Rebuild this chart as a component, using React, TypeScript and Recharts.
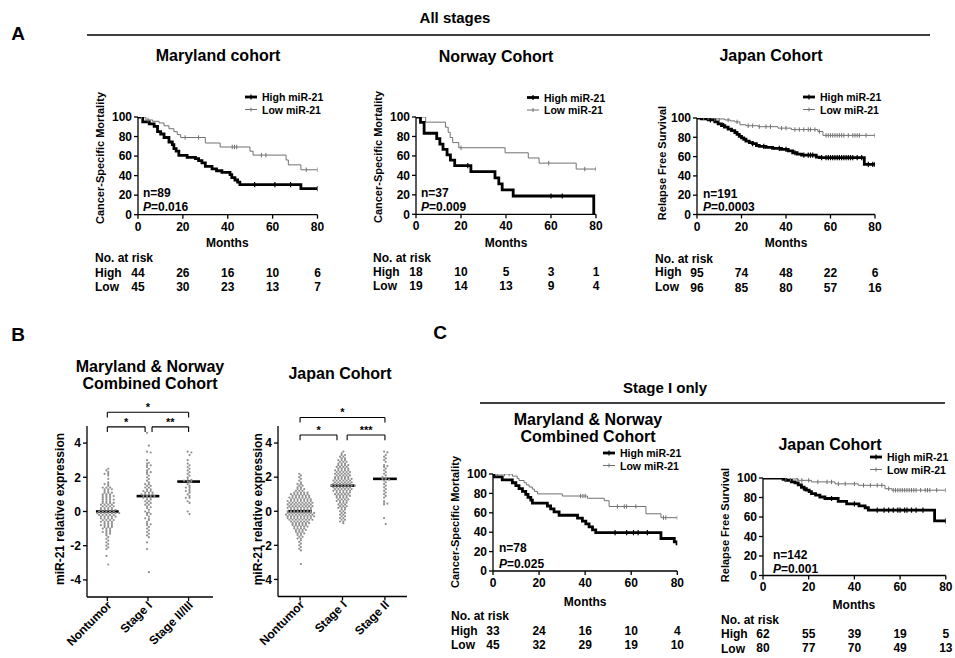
import React from 'react';
import { LineChart, Line, XAxis, YAxis, ScatterChart, Scatter, ReferenceLine } from 'recharts';

const FONT = '"Liberation Sans", Arial, Helvetica, sans-serif';
const LOW_COLOR = '#707070';

// ---- Kaplan-Meier data: [months, % event-free] steps and censor times ----
const MONTH_TICKS = [0, 20, 40, 60, 80];
const PCT_TICKS = [0, 20, 40, 60, 80, 100];

// A: Maryland cohort
const A1_HIGH = [[0, 100], [2.1, 95], [5, 93], [7.2, 90.4], [8.7, 85], [10.1, 82.6], [11.6, 79], [13.8, 74.4], [15.3, 71.7], [16, 67.6], [17, 65], [18.2, 60.8], [21.9, 58.7], [25.6, 57.3], [27, 55.3], [28.5, 53], [30, 49.5], [33, 47], [35, 45], [37.4, 43.3], [41, 41], [41.8, 38], [43.2, 35.5], [44.4, 33.4], [45.4, 30.7], [72.6, 26.6]];
const A1_HIGH_CENSOR = [52, 61, 68, 80];
const A1_LOW = [[0, 100], [3.5, 97], [6.5, 95.6], [9.4, 93.9], [11.6, 91], [13.8, 88], [16, 85], [17.5, 82], [19, 79], [30, 73.4], [36.6, 69.3], [49.9, 65], [51.3, 61], [66, 56], [67, 51], [72.6, 46]];
const A1_LOW_CENSOR = [1.5, 4.5, 21, 27, 42, 43, 44, 55, 57, 75, 80];
const A1_RISK_HIGH = [44, 26, 16, 10, 6];
const A1_RISK_LOW = [45, 30, 23, 13, 7];

// A: Norway cohort
const A2_HIGH = [[0, 100], [2, 94.4], [3.6, 83.3], [9.2, 77.8], [10.6, 72.2], [12, 66.7], [13.8, 61.1], [15.3, 55.6], [17.2, 50], [24.4, 43.8], [35.1, 37.5], [36.8, 31.3], [38.3, 25], [43.2, 18.8], [79, 0]];
const A2_HIGH_CENSOR = [23, 60, 65];
const A2_LOW = [[0, 100], [4.3, 94.7], [13.1, 89.5], [14.3, 84.2], [15.2, 78.9], [16.3, 73.7], [19, 68.4], [39.6, 63.2], [49.9, 57.9], [54.7, 52.6], [71.2, 46.5]];
const A2_LOW_CENSOR = [20, 59, 75, 80];
const A2_RISK_HIGH = [18, 10, 5, 3, 1];
const A2_RISK_LOW = [19, 14, 13, 9, 4];

// A: Japan cohort
const A3_HIGH = [[0, 100], [2, 99], [5, 98], [8, 96], [9.5, 94], [11, 92], [12.5, 90.5], [14, 88.5], [15.5, 87], [17, 85], [18, 83], [19, 81], [20, 79.5], [21, 78], [22, 76], [23.5, 74.5], [25, 73.5], [26.7, 71.5], [28, 70.5], [31, 69.5], [34, 68.5], [38, 67.5], [41, 66], [43, 64], [45, 62.5], [47, 61.5], [53.6, 59.5], [55, 59], [75.2, 52]];
const A3_HIGH_CENSOR = [6, 12, 25, 30, 37, 40, 44, 48, 50, 51, 52, 56, 58, 59, 60, 61, 62, 63, 64, 65, 66, 67, 68, 69, 70, 72, 74, 77, 79, 80];
const A3_LOW = [[0, 100], [6, 99], [12.5, 98], [15, 97], [17, 96], [19.3, 93], [22, 92], [27.5, 91], [36.4, 89.5], [42.4, 88], [54.3, 86], [56.6, 82]];
const A3_LOW_CENSOR = [3, 5, 8, 10, 14, 18, 23, 25, 28, 31, 33, 38, 40, 44, 46, 48, 50, 51, 53, 55, 58, 59, 60, 61, 62, 63, 64, 65, 66, 68, 70, 71, 72, 73, 76, 80];
const A3_RISK_HIGH = [95, 74, 48, 22, 6];
const A3_RISK_LOW = [96, 85, 80, 57, 16];

// C: Maryland & Norway stage I
const C1_HIGH = [[0, 100], [0.4, 97], [4, 94], [8.4, 91], [9.9, 88], [11.3, 85], [12.8, 82], [14.2, 79], [15.2, 76], [16.4, 73], [17.1, 70], [23.6, 67], [25, 64], [26.5, 61], [28.7, 57.5], [36.7, 54.5], [38.8, 51.5], [40.3, 48.5], [41.7, 45.5], [43.2, 42.5], [44.6, 39.5], [72.9, 33.5], [78.7, 30], [79.9, 26.5]];
const C1_HIGH_CENSOR = [53, 58, 61, 63, 67];
const C1_LOW = [[0, 100], [8.4, 97.8], [10.5, 95.5], [11.3, 93.3], [13.5, 91], [14.5, 88.8], [15.7, 86.6], [17.1, 84.4], [18, 82], [19.3, 79.5], [30.1, 77.3], [41, 75], [48.3, 72.5], [50.4, 66.5], [66.4, 59], [72.9, 55]];
const C1_LOW_CENSOR = [2, 5, 7, 38, 39, 40, 54, 57, 58, 62, 74, 75, 80];
const C1_RISK_HIGH = [33, 24, 16, 10, 4];
const C1_RISK_LOW = [45, 32, 29, 19, 10];

// C: Japan stage I
const C2_HIGH = [[0, 100], [8.8, 98.5], [10, 97.5], [12.4, 96], [14, 95], [15.4, 93], [16.8, 90.5], [18, 89], [19, 87.5], [20.2, 86], [21.2, 84], [23, 82.5], [24.9, 80.5], [27.1, 79], [32.9, 76], [36.6, 73.5], [42, 71.5], [44.7, 69.5], [46.1, 67], [75.1, 56]];
const C2_HIGH_CENSOR = [18, 30, 40, 50, 53, 55, 57, 59, 60, 62, 63, 65, 67, 70, 80];
const C2_LOW = [[0, 100], [9.5, 99], [15.4, 97.6], [21.2, 96], [31.5, 94], [41.7, 92.5], [53.4, 89], [56.4, 87.5]];
const C2_LOW_CENSOR = [10, 12, 15, 17, 20, 24, 28, 30, 33, 36, 40, 44, 47, 50, 52, 55, 57, 58, 59, 60, 61, 62, 63, 64, 65, 66, 67, 69, 71, 72, 73, 76, 80];
const C2_RISK_HIGH = [62, 55, 39, 19, 5];
const C2_RISK_LOW = [80, 77, 70, 49, 13];

// ---- B: miR-21 relative expression per group ----
const B1_LABELS = ['Nontumor', 'Stage I', 'Stage II/III'];
const B1_NONTUMOR = [2.5, 2.4, 2.3, 2.2, 2.2, 2.1, 1.9, 1.7, 1.6, 1.6, 1.5, 1.4, 1.4, 1.4, 1.3, 1.3, 1.3, 1.2, 1.2, 1.1, 1.1, 1.1, 1.0, 1.0, 1.0,
  0.9, 0.9, 0.9, 0.9, 0.8, 0.8, 0.8, 0.7, 0.7, 0.7, 0.7, 0.6, 0.6, 0.6, 0.5, 0.5, 0.5, 0.5, 0.4, 0.4, 0.4, 0.4, 0.3, 0.3, 0.3, 0.3,
  0.2, 0.2, 0.2, 0.2, 0.1, 0.1, 0.1, 0.1, 0.1, 0.0, 0.0, 0.0, 0.0, 0.0,
  -0.1, -0.1, -0.1, -0.1, -0.1, -0.1, -0.1, -0.2, -0.2, -0.2, -0.2, -0.2, -0.3, -0.3, -0.3, -0.3, -0.3, -0.4, -0.4, -0.4, -0.4,
  -0.5, -0.5, -0.5, -0.5, -0.6, -0.6, -0.6, -0.6, -0.7, -0.7, -0.7, -0.8, -0.8, -0.8, -0.8, -0.9, -0.9, -0.9, -1.0, -1.0, -1.0,
  -1.1, -1.1, -1.2, -1.2, -1.2, -1.3, -1.3, -1.4, -1.5, -1.6, -1.7, -1.8, -1.9, -2.0, -2.1, -2.2, -2.6, -3.1];
const B1_STAGE1 = [4.6, 3.85, 3.5, 3.45, 3.0, 2.85, 2.8, 2.7, 2.7, 2.6, 2.5, 2.4, 2.3, 2.3, 2.2, 2.1, 2.0, 1.9, 1.8, 1.7, 1.6, 1.6,
  1.5, 1.5, 1.4, 1.4, 1.3, 1.3, 1.2, 1.2, 1.2, 1.1, 1.1, 1.1, 1.0, 1.0, 1.0, 1.0, 0.9, 0.9, 0.9, 0.9, 0.8, 0.8, 0.8, 0.7, 0.7,
  0.6, 0.6, 0.5, 0.5, 0.4, 0.4, 0.3, 0.25, 0.2, 0.1, 0.0, -0.05, -0.1, -0.15, -0.2, -0.3, -0.4, -0.45, -0.5, -0.6, -0.7, -0.75,
  -0.8, -0.9, -1.0, -1.1, -1.2, -1.3, -1.4, -1.5, -1.8, -2.2, -3.55];
const B1_STAGE23 = [3.5, 3.45, 3.3, 3.0, 2.8, 2.7, 2.6, 2.5, 2.4, 2.3, 2.2, 2.1, 2.0, 1.9, 1.85, 1.8, 1.75, 1.75, 1.7, 1.6, 1.5,
  1.4, 1.4, 1.3, 1.2, 1.2, 1.1, 1.0, 0.9, 0.8, 0.8, 0.6, 0.5, 0.0, -0.15];

const B2_LABELS = ['Nontumor', 'Stage I', 'Stage II'];
const B2_NONTUMOR = [2.2, 2.1, 2.0, 1.9, 1.8, 1.7, 1.6, 1.6, 1.5, 1.5, 1.4, 1.4, 1.3, 1.3, 1.3, 1.2, 1.2, 1.2,
  1.1, 1.1, 1.1, 1.1, 1.1, 1.0, 1.0, 1.0, 1.0, 1.0, 1.0, 0.9, 0.9, 0.9, 0.9, 0.9, 0.9,
  0.8, 0.8, 0.8, 0.8, 0.8, 0.8, 0.8, 0.7, 0.7, 0.7, 0.7, 0.7, 0.7, 0.7,
  0.6, 0.6, 0.6, 0.6, 0.6, 0.6, 0.6, 0.6, 0.5, 0.5, 0.5, 0.5, 0.5, 0.5, 0.5, 0.5,
  0.4, 0.4, 0.4, 0.4, 0.4, 0.4, 0.4, 0.4, 0.3, 0.3, 0.3, 0.3, 0.3, 0.3, 0.3, 0.3,
  0.2, 0.2, 0.2, 0.2, 0.2, 0.2, 0.2, 0.2, 0.1, 0.1, 0.1, 0.1, 0.1, 0.1, 0.1,
  0.0, 0.0, 0.0, 0.0, 0.0, 0.0, 0.0, 0.0,
  -0.1, -0.1, -0.1, -0.1, -0.1, -0.1, -0.1, -0.1, -0.1, -0.2, -0.2, -0.2, -0.2, -0.2, -0.2, -0.2, -0.2, -0.2,
  -0.3, -0.3, -0.3, -0.3, -0.3, -0.3, -0.3, -0.3, -0.3, -0.4, -0.4, -0.4, -0.4, -0.4, -0.4, -0.4, -0.4,
  -0.5, -0.5, -0.5, -0.5, -0.5, -0.5, -0.5, -0.5, -0.6, -0.6, -0.6, -0.6, -0.6, -0.6, -0.7, -0.7, -0.7, -0.7, -0.7, -0.7,
  -0.8, -0.8, -0.8, -0.8, -0.8, -0.9, -0.9, -0.9, -0.9, -0.9, -1.0, -1.0, -1.0, -1.0, -1.1, -1.1, -1.1, -1.1,
  -1.2, -1.2, -1.2, -1.3, -1.3, -1.3, -1.4, -1.4, -1.5, -1.5, -1.6, -1.6, -1.7, -1.8, -1.9, -2.0, -2.1, -2.2, -2.3, -3.1];
const B2_STAGE1 = [3.5, 3.4, 3.3, 3.3, 3.2, 3.2, 3.1, 3.1, 3.0, 3.0, 3.0, 2.9, 2.9, 2.9, 2.8, 2.8, 2.8,
  2.7, 2.7, 2.7, 2.7, 2.6, 2.6, 2.6, 2.6, 2.5, 2.5, 2.5, 2.5, 2.4, 2.4, 2.4, 2.4, 2.4, 2.3, 2.3, 2.3, 2.3, 2.3,
  2.2, 2.2, 2.2, 2.2, 2.2, 2.1, 2.1, 2.1, 2.1, 2.1, 2.0, 2.0, 2.0, 2.0, 2.0,
  1.9, 1.9, 1.9, 1.9, 1.9, 1.9, 1.8, 1.8, 1.8, 1.8, 1.8, 1.8, 1.7, 1.7, 1.7, 1.7, 1.7, 1.7, 1.6, 1.6, 1.6, 1.6, 1.6, 1.6,
  1.5, 1.5, 1.5, 1.5, 1.5, 1.5, 1.5, 1.5,
  1.4, 1.4, 1.4, 1.4, 1.4, 1.4, 1.3, 1.3, 1.3, 1.3, 1.3, 1.3, 1.2, 1.2, 1.2, 1.2, 1.2, 1.2,
  1.1, 1.1, 1.1, 1.1, 1.1, 1.0, 1.0, 1.0, 1.0, 1.0, 0.9, 0.9, 0.9, 0.9, 0.9,
  0.8, 0.8, 0.8, 0.8, 0.7, 0.7, 0.7, 0.7, 0.6, 0.6, 0.6, 0.6, 0.5, 0.5, 0.5, 0.4, 0.4, 0.4, 0.3, 0.3, 0.3, 0.2, 0.2, 0.2,
  0.1, 0.1, 0.0, 0.0, -0.1, -0.1, -0.2, -0.2, -0.3, -0.3, -0.4, -0.4, -0.5, -0.5, -0.6, -0.6, -0.7];
const B2_STAGE2 = [3.5, 3.45, 3.3, 3.2, 3.1, 3.0, 2.9, 2.7, 2.65, 2.6, 2.5, 2.4, 2.3, 2.2, 2.1, 2.0, 1.95, 1.9, 1.9,
  1.85, 1.8, 1.7, 1.6, 1.5, 1.4, 1.3, 1.2, 1.1, 1.0, 0.9, 0.8, 0.6, 0.5, 0.45, 0.4, -0.4, -0.75];

// ---- helpers ----
type Step = number[];

function withCensor(steps: Step[], censor: number[]) {
  const pts = steps.map(([t, s]) => ({ t, s, c: false }));
  censor.forEach((t) => {
    let s = steps[0][1];
    steps.forEach(([tt, ss]) => { if (tt <= t) s = ss; });
    pts.push({ t, s, c: true });
  });
  return pts.sort((a, b) => a.t - b.t);
}

function median(values: number[]) {
  const s = [...values].sort((a, b) => a - b);
  const m = Math.floor(s.length / 2);
  return s.length % 2 ? s[m] : (s[m - 1] + s[m]) / 2;
}

// column-scatter layout: values sharing a 0.1 row are spread sideways, alternate rows staggered
function swarm(values: number[], cat: number, step: number) {
  const rows = new Map<number, number[]>();
  values.forEach((v) => {
    const k = Math.round(v * 10);
    if (!rows.has(k)) rows.set(k, []);
    rows.get(k)!.push(v);
  });
  const out: { x: number; y: number }[] = [];
  rows.forEach((vs, k) => {
    const shift = (Math.abs(k) % 2 ? 0.25 : -0.25) * step;
    vs.forEach((v, i) => out.push({ x: cat + shift + (i - (vs.length - 1) / 2) * step, y: v }));
  });
  return out;
}

const bold = { fontFamily: FONT, fontWeight: 700, fill: '#000' } as const;
const axisStyle = { stroke: '#000', strokeWidth: 1.3 };

const censorDot = (color: string, sw: number, len: number) => (p: any) =>
  p.payload && p.payload.c ? (
    <line key={`c${p.index}`} x1={p.cx} x2={p.cx} y1={p.cy - len} y2={p.cy + len} stroke={color} strokeWidth={sw} />
  ) : (
    <g key={`n${p.index}`} />
  );

// ---- KM panel ----
const KM_PANELS = [
  { key: 'a1', box: { left: 137.5, right: 317, top: 117, bottom: 214.7 }, high: A1_HIGH, highCensor: A1_HIGH_CENSOR, low: A1_LOW, lowCensor: A1_LOW_CENSOR,
    riskHigh: A1_RISK_HIGH, riskLow: A1_RISK_LOW, rows: { tick: 12, months: 28.5, header: 43.5, high: 58, low: 72 },
    title: ['Maryland cohort'], titleX: 218, titleY: 55, yLabel: 'Cancer-Specific Mortality', yLabelX: 100, yLabelY: 158,
    riskX: 95, n: 'n=89', p: '=0.016', statX: 143, nY: 193, pY: 207, legendX: 245, legendY: 97 },
  { key: 'a2', box: { left: 416, right: 596, top: 117, bottom: 214.3 }, high: A2_HIGH, highCensor: A2_HIGH_CENSOR, low: A2_LOW, lowCensor: A2_LOW_CENSOR,
    riskHigh: A2_RISK_HIGH, riskLow: A2_RISK_LOW, rows: { tick: 12, months: 28.5, header: 43.5, high: 58, low: 72 },
    title: ['Norway Cohort'], titleX: 496, titleY: 56, yLabel: 'Cancer-Specific Mortality', yLabelX: 378, yLabelY: 157,
    riskX: 373, n: 'n=37', p: '=0.009', statX: 421, nY: 193, pY: 207, legendX: 527, legendY: 97.5 },
  { key: 'a3', box: { left: 697, right: 875, top: 117.5, bottom: 214 }, high: A3_HIGH, highCensor: A3_HIGH_CENSOR, low: A3_LOW, lowCensor: A3_LOW_CENSOR,
    riskHigh: A3_RISK_HIGH, riskLow: A3_RISK_LOW, rows: { tick: 12, months: 28.5, header: 44.5, high: 58, low: 73 },
    title: ['Japan Cohort'], titleX: 771, titleY: 55, yLabel: 'Relapse Free Survival', yLabelX: 662, yLabelY: 163,
    riskX: 655, n: 'n=191', p: '=0.0003', statX: 703, nY: 194, pY: 207, legendX: 803, legendY: 97 },
  { key: 'c1', box: { left: 493, right: 677.3, top: 474, bottom: 571 }, high: C1_HIGH, highCensor: C1_HIGH_CENSOR, low: C1_LOW, lowCensor: C1_LOW_CENSOR,
    riskHigh: C1_RISK_HIGH, riskLow: C1_RISK_LOW, rows: { tick: 12.3, months: 30.7, header: 44.7, high: 59.7, low: 74 },
    title: ['Maryland & Norway', 'Combined Cohort'], titleX: 588, titleY: 419, yLabel: 'Cancer-Specific Mortality', yLabelX: 455, yLabelY: 522,
    riskX: 451, n: 'n=78', p: '=0.025', statX: 499, nY: 548, pY: 564, legendX: 603, legendY: 453 },
  { key: 'c2', box: { left: 762.5, right: 945.3, top: 478, bottom: 575.5 }, high: C2_HIGH, highCensor: C2_HIGH_CENSOR, low: C2_LOW, lowCensor: C2_LOW_CENSOR,
    riskHigh: C2_RISK_HIGH, riskLow: C2_RISK_LOW, rows: { tick: 12, months: 29.5, header: 44.5, high: 58.5, low: 73 },
    title: ['Japan Cohort'], titleX: 830, titleY: 444, yLabel: 'Relapse Free Survival', yLabelX: 725, yLabelY: 525,
    riskX: 721, n: 'n=142', p: '=0.001', statX: 773, nY: 555, pY: 569, legendX: 870, legendY: 457 },
];

type KMCfg = (typeof KM_PANELS)[number];

function KMChart({ cfg }: { cfg: KMCfg }) {
  const YW = 30, MT = 10, MR = 12, XH = 90;
  const { box, rows } = cfg;
  const w = box.right - box.left;
  const h = box.bottom - box.top;
  const tick = (p: any) => {
    const i = MONTH_TICKS.indexOf(p.payload.value);
    const base = p.y - 4;
    return (
      <g key={`t${i}`}>
        <text x={p.x} y={base + rows.tick} textAnchor="middle" dominantBaseline="central" fontSize={12} {...bold}>{p.payload.value}</text>
        <text x={p.x} y={base + rows.high} textAnchor="middle" dominantBaseline="central" fontSize={12} {...bold}>{cfg.riskHigh[i]}</text>
        <text x={p.x} y={base + rows.low} textAnchor="middle" dominantBaseline="central" fontSize={12} {...bold}>{cfg.riskLow[i]}</text>
      </g>
    );
  };
  return (
    <div style={{ position: 'absolute', left: box.left - YW, top: box.top - MT }}>
      <LineChart width={YW + w + MR} height={MT + h + XH} margin={{ top: MT, right: MR, left: 0, bottom: 0 }}>
        <XAxis type="number" dataKey="t" domain={[0, 80]} ticks={MONTH_TICKS} interval={0} height={XH}
          tickSize={4} tickMargin={0} tick={tick} axisLine={axisStyle} tickLine={axisStyle} allowDataOverflow />
        <YAxis type="number" domain={[0, 100]} ticks={PCT_TICKS} interval={0} width={YW} tickSize={4} tickMargin={2}
          tick={{ fontSize: 12, ...bold }} axisLine={axisStyle} tickLine={axisStyle} allowDataOverflow />
        <Line data={withCensor(cfg.low, cfg.lowCensor)} dataKey="s" type="stepAfter" stroke={LOW_COLOR} strokeWidth={1}
          dot={censorDot(LOW_COLOR, 1, 2.2)} activeDot={false} isAnimationActive={false} />
        <Line data={withCensor(cfg.high, cfg.highCensor)} dataKey="s" type="stepAfter" stroke="#000" strokeWidth={2.8}
          dot={censorDot('#000', 1.2, 2.6)} activeDot={false} isAnimationActive={false} />
      </LineChart>
    </div>
  );
}

function KMText({ cfg }: { cfg: KMCfg }) {
  const { box, rows } = cfg;
  const cx = (box.left + box.right) / 2;
  const lx = cfg.legendX, ly = cfg.legendY;
  return (
    <g>
      {cfg.title.map((t, i) => (
        <text key={t} x={cfg.titleX} y={cfg.titleY + i * 17} textAnchor="middle" dominantBaseline="central" fontSize={16} {...bold}>{t}</text>
      ))}
      <text x={cfg.yLabelX} y={cfg.yLabelY} textAnchor="middle" dominantBaseline="central" fontSize={11} {...bold}
        transform={`rotate(-90 ${cfg.yLabelX} ${cfg.yLabelY})`}>{cfg.yLabel}</text>
      <text x={cx} y={box.bottom + rows.months} textAnchor="middle" dominantBaseline="central" fontSize={12} {...bold}>Months</text>
      <text x={cfg.riskX} y={box.bottom + rows.header} dominantBaseline="central" fontSize={12} {...bold}>No. at risk</text>
      <text x={cfg.riskX} y={box.bottom + rows.high} dominantBaseline="central" fontSize={12} {...bold}>High</text>
      <text x={cfg.riskX} y={box.bottom + rows.low} dominantBaseline="central" fontSize={12} {...bold}>Low</text>
      <text x={cfg.statX} y={cfg.nY} dominantBaseline="central" fontSize={12} {...bold}>{cfg.n}</text>
      <text x={cfg.statX} y={cfg.pY} dominantBaseline="central" fontSize={12} {...bold}>
        <tspan fontStyle="italic">P</tspan>{cfg.p}
      </text>
      <line x1={lx} x2={lx + 12} y1={ly} y2={ly} stroke="#000" strokeWidth={2.8} />
      <line x1={lx + 6} x2={lx + 6} y1={ly - 2.5} y2={ly + 2.5} stroke="#000" strokeWidth={1.2} />
      <text x={lx + 17} y={ly} dominantBaseline="central" fontSize={10.5} {...bold}>High miR-21</text>
      <line x1={lx} x2={lx + 12} y1={ly + 12.5} y2={ly + 12.5} stroke={LOW_COLOR} strokeWidth={1} />
      <line x1={lx + 6} x2={lx + 6} y1={ly + 10.5} y2={ly + 14.5} stroke={LOW_COLOR} strokeWidth={1} />
      <text x={lx + 17} y={ly + 12.5} dominantBaseline="central" fontSize={10.5} {...bold}>Low miR-21</text>
    </g>
  );
}

// ---- B: column scatter panels ----
const DOT_PANELS = [
  { key: 'b1', box: { left: 87, right: 213, top: 425.5, bottom: 596.5 }, xDomain: [0.5, 3.6], step: 0.09, labels: B1_LABELS,
    groups: [B1_NONTUMOR, B1_STAGE1, B1_STAGE23],
    brackets: [
      { from: 1, to: 3, level: 5.8, mark: '*' },
      { from: 1, to: 1.93, level: 4.95, mark: '*' },
      { from: 2.1, to: 3, level: 4.95, mark: '**' },
    ],
    title: ['Maryland & Norway', 'Combined Cohort'], titleX: 150, titleY: 366, yLabelX: 60 },
  { key: 'b2', box: { left: 278, right: 407, top: 426, bottom: 596.5 }, xDomain: [0.48, 3.52], step: 0.078, labels: B2_LABELS,
    groups: [B2_NONTUMOR, B2_STAGE1, B2_STAGE2],
    brackets: [
      { from: 1, to: 3, level: 5.5, mark: '*' },
      { from: 1, to: 1.87, level: 4.47, mark: '*' },
      { from: 2.11, to: 3, level: 4.47, mark: '***' },
    ],
    title: ['Japan Cohort'], titleX: 340, titleY: 373, yLabelX: 258 },
];

type DotCfg = (typeof DOT_PANELS)[number];

function DotChart({ cfg }: { cfg: DotCfg }) {
  const YW = 30, MT = 45, MR = 5, XH = 70;
  const { box } = cfg;
  const w = box.right - box.left;
  const h = box.bottom - box.top;
  const dot = (p: any) => <circle cx={p.cx} cy={p.cy} r={1.1} fill="#909090" />;
  const rotTick = (p: any) => {
    const ax = p.x + 5, ay = p.y + 5;
    return (
      <text key={`r${p.payload.value}`} x={ax} y={ay} textAnchor="end" fontSize={12} {...bold}
        transform={`rotate(-45 ${ax} ${ay})`}>{cfg.labels[p.payload.value - 1]}</text>
    );
  };
  return (
    <div style={{ position: 'absolute', left: box.left - YW, top: box.top - MT }}>
      <ScatterChart width={YW + w + MR} height={MT + h + XH} margin={{ top: MT, right: MR, left: 0, bottom: 0 }}>
        <XAxis type="number" dataKey="x" domain={cfg.xDomain} ticks={[1, 2, 3]} interval={0} height={XH} tickSize={4}
          tickMargin={0} tick={rotTick} axisLine={axisStyle} tickLine={axisStyle} allowDataOverflow />
        <YAxis type="number" dataKey="y" domain={[-5, 5]} ticks={[-4, -2, 0, 2, 4]} interval={0} width={YW} tickSize={4}
          tickMargin={2} tick={{ fontSize: 12, ...bold }} axisLine={axisStyle} tickLine={axisStyle} allowDataOverflow />
        {cfg.groups.map((g, gi) => (
          <Scatter key={`g${gi}`} data={swarm(g, gi + 1, cfg.step)} shape={dot} isAnimationActive={false} />
        ))}
        {cfg.groups.map((g, gi) => {
          const m = median(g);
          return (
            <ReferenceLine key={`m${gi}`} segment={[{ x: gi + 0.72, y: m }, { x: gi + 1.28, y: m }]}
              stroke="#000" strokeWidth={2.6} ifOverflow="visible" />
          );
        })}
        {cfg.brackets.map((b, bi) => [
          <ReferenceLine key={`bh${bi}`} segment={[{ x: b.from, y: b.level }, { x: b.to, y: b.level }]} stroke="#000"
            strokeWidth={1.1} ifOverflow="visible"
            label={{ value: b.mark, position: 'top', offset: 1, fontSize: 11, ...bold }} />,
          <ReferenceLine key={`bl${bi}`} segment={[{ x: b.from, y: b.level }, { x: b.from, y: b.level - 0.3 }]}
            stroke="#000" strokeWidth={1.1} ifOverflow="visible" />,
          <ReferenceLine key={`br${bi}`} segment={[{ x: b.to, y: b.level }, { x: b.to, y: b.level - 0.3 }]}
            stroke="#000" strokeWidth={1.1} ifOverflow="visible" />,
        ])}
      </ScatterChart>
    </div>
  );
}

function DotText({ cfg }: { cfg: DotCfg }) {
  const yc = (cfg.box.top + cfg.box.bottom) / 2 - 2;
  return (
    <g>
      {cfg.title.map((t, i) => (
        <text key={t} x={cfg.titleX} y={cfg.titleY + i * 17} textAnchor="middle" dominantBaseline="central" fontSize={16} {...bold}>{t}</text>
      ))}
      <text x={cfg.yLabelX} y={yc} textAnchor="middle" dominantBaseline="central" fontSize={12} {...bold}
        transform={`rotate(-90 ${cfg.yLabelX} ${yc})`}>miR-21 relative expression</text>
    </g>
  );
}

export default function App() {
  return (
    <div style={{ position: 'absolute', left: 0, top: 0, width: 955, height: 658, background: '#fff', fontFamily: FONT, overflow: 'hidden' }}>
      {KM_PANELS.map((p) => <KMChart key={p.key} cfg={p} />)}
      {DOT_PANELS.map((p) => <DotChart key={p.key} cfg={p} />)}
      <svg width={955} height={658} style={{ position: 'absolute', left: 0, top: 0, pointerEvents: 'none' }}>
        <text x={18} y={33} textAnchor="middle" dominantBaseline="central" fontSize={19} {...bold}>A</text>
        <text x={18} y={334} textAnchor="middle" dominantBaseline="central" fontSize={19} {...bold}>B</text>
        <text x={440} y={332} textAnchor="middle" dominantBaseline="central" fontSize={19} {...bold}>C</text>
        <text x={455} y={17} textAnchor="middle" dominantBaseline="central" fontSize={15} {...bold}>All stages</text>
        <line x1={87} x2={930} y1={35} y2={35} stroke="#000" strokeWidth={1.3} />
        <text x={665} y={387} textAnchor="middle" dominantBaseline="central" fontSize={15} {...bold}>Stage I only</text>
        <line x1={480} x2={945} y1={403} y2={403} stroke="#000" strokeWidth={1.3} />
        {KM_PANELS.map((p) => <KMText key={p.key} cfg={p} />)}
        {DOT_PANELS.map((p) => <DotText key={p.key} cfg={p} />)}
      </svg>
    </div>
  );
}
